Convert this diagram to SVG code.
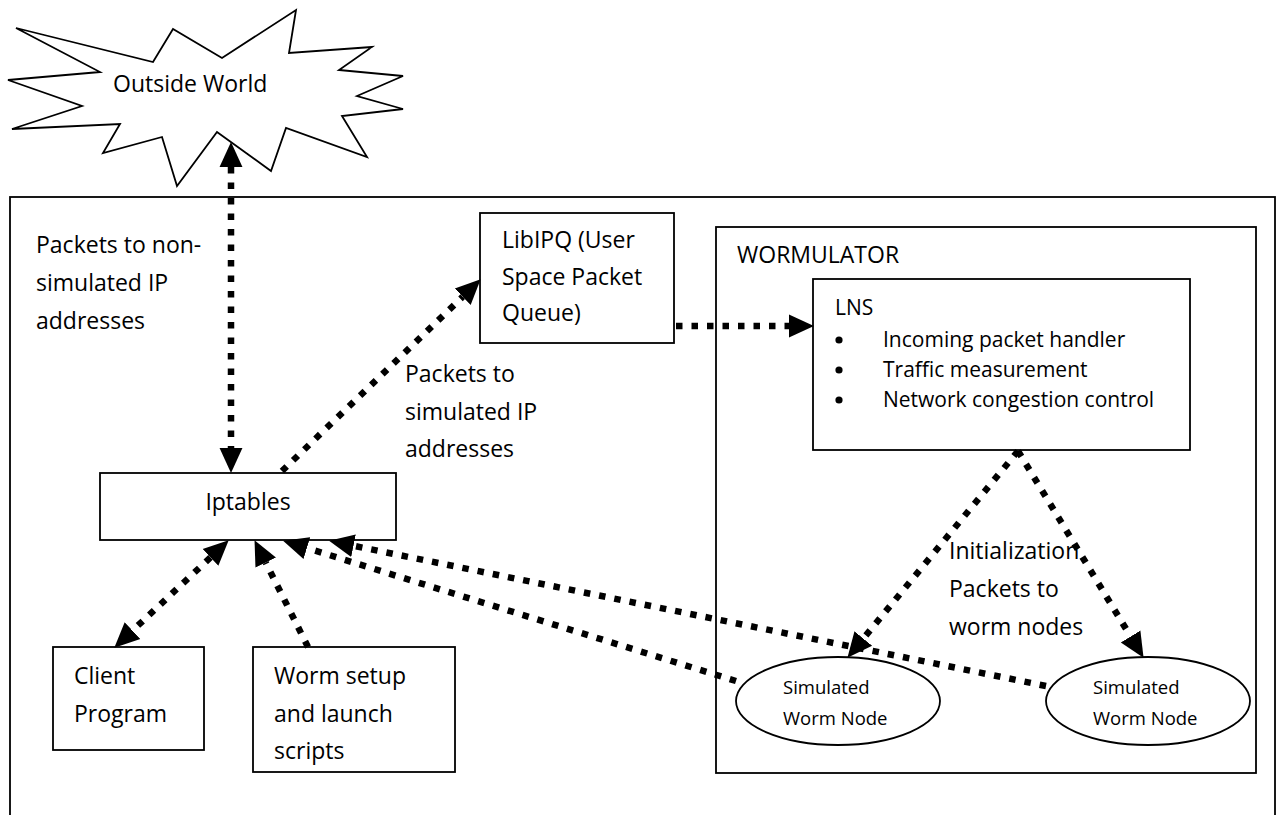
<svg xmlns="http://www.w3.org/2000/svg" width="1285" height="815" viewBox="0 0 1285 815">
<defs>
<style>
.box{fill:#fff;stroke:#000;stroke-width:1.8}
.frame{fill:none;stroke:#000;stroke-width:1.8}
.t{font-family:"Open Sans","Noto Sans",sans-serif;font-size:23px;fill:#000}
.s{font-family:"Open Sans","Noto Sans",sans-serif;font-size:21px;fill:#000}
.e{font-family:"Open Sans","Noto Sans",sans-serif;font-size:18.5px;fill:#000}
.c{fill:none;stroke:#000;stroke-width:6.5;stroke-dasharray:6.5 9}
</style>
<marker id="ah" markerUnits="userSpaceOnUse" markerWidth="26" markerHeight="26" viewBox="0 -12 25 24" refX="0" refY="0" orient="auto-start-reverse">
<path d="M0,-11 L24,0 L0,11 Z" fill="#000"/>
</marker>
</defs>
<rect width="1285" height="815" fill="#fff"/>

<g id="system">
<rect class="frame" x="10" y="197" width="1265" height="630"/>
</g>

<g id="outside-world">
<polygon class="box" points="16,28 153,62 173,29 222,58 296,10 289,53 372,47 339,70 403,76 357,96 403,109 342,116 367,157 286,128 271,171 217,132 177,186 162,137 103,153 120,124 12,129 82,106 8,80 100,72"/>
<text class="t" x="113" y="92">Outside World</text>
</g>

<g id="wormulator">
<rect class="box" x="716" y="227" width="540" height="546"/>
<text class="t" x="737" y="263">WORMULATOR</text>
</g>

<g id="libipq">
<rect class="box" x="480" y="213" width="194" height="130"/>
<text class="t" x="502" y="248">LibIPQ (User</text>
<text class="t" x="502" y="285">Space Packet</text>
<text class="t" x="502" y="321">Queue)</text>
</g>

<g id="lns">
<rect class="box" x="813" y="279" width="377" height="171"/>
<text class="s" x="835" y="315">LNS</text>
<circle cx="839" cy="340" r="3.6"/>
<circle cx="839" cy="370" r="3.6"/>
<circle cx="839" cy="400" r="3.6"/>
<text class="s" x="883" y="347">Incoming packet handler</text>
<text class="s" x="883" y="377">Traffic measurement</text>
<text class="s" x="883" y="407">Network congestion control</text>
</g>

<g id="iptables">
<rect class="box" x="100" y="473" width="296" height="67"/>
<text class="t" x="248" y="510" text-anchor="middle">Iptables</text>
</g>

<g id="client">
<rect class="box" x="53" y="647" width="151" height="103"/>
<text class="t" x="74" y="684">Client</text>
<text class="t" x="74" y="722">Program</text>
</g>

<g id="worm-setup">
<rect class="box" x="253" y="647" width="202" height="125"/>
<text class="t" x="274" y="684">Worm setup</text>
<text class="t" x="274" y="722">and launch</text>
<text class="t" x="274" y="759">scripts</text>
</g>

<g id="node1">
<ellipse class="box" cx="838" cy="701" rx="102" ry="44"/>
<text class="e" x="783" y="694">Simulated</text>
<text class="e" x="783" y="725">Worm Node</text>
</g>

<g id="node2">
<ellipse class="box" cx="1148" cy="701" rx="102" ry="44"/>
<text class="e" x="1093" y="694">Simulated</text>
<text class="e" x="1093" y="725">Worm Node</text>
</g>

<g id="connectors">
<line class="c" x1="231" y1="167" x2="231" y2="448" marker-start="url(#ah)" marker-end="url(#ah)"/>
<line class="c" x1="282" y1="471" x2="462.7" y2="296.7" marker-end="url(#ah)"/>
<line class="c" x1="676" y1="326" x2="789" y2="326" marker-end="url(#ah)"/>
<line class="c" x1="1018" y1="451" x2="863.3" y2="638.5" marker-end="url(#ah)"/>
<line class="c" x1="1018" y1="451" x2="1130.6" y2="636.5" marker-end="url(#ah)"/>
<line class="c" x1="210.5" y1="557.4" x2="132.5" y2="630.6" marker-start="url(#ah)" marker-end="url(#ah)"/>
<line class="c" x1="308" y1="647" x2="265.7" y2="562.5" marker-end="url(#ah)"/>
<line class="c" x1="736" y1="681" x2="306.9" y2="548.1" marker-end="url(#ah)"/>
<line class="c" x1="1046" y1="686" x2="353.5" y2="545.8" marker-end="url(#ah)"/>
</g>

<g id="labels">
<text class="t" x="36" y="253">Packets to non-</text>
<text class="t" x="36" y="291">simulated IP</text>
<text class="t" x="36" y="329">addresses</text>
<text class="t" x="405" y="382">Packets to</text>
<text class="t" x="405" y="420">simulated IP</text>
<text class="t" x="405" y="457">addresses</text>
<text class="t" x="949" y="559">Initialization</text>
<text class="t" x="949" y="597">Packets to</text>
<text class="t" x="949" y="635">worm nodes</text>
</g>
</svg>
